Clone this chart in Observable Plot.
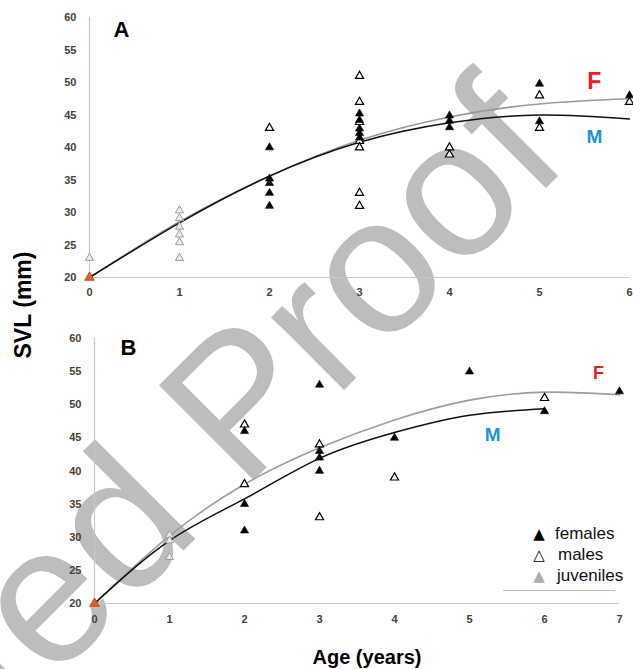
<!DOCTYPE html>
<html><head><meta charset="utf-8">
<script src="https://cdn.jsdelivr.net/npm/d3@7"></script>
<script src="https://cdn.jsdelivr.net/npm/@observablehq/plot@0.6"></script>
<style>
  body { margin: 0; background: #fff; }
  #wrap { position: relative; width: 633px; height: 669px; overflow: hidden; font-family: "Liberation Sans", Arial, sans-serif; }
  #wm { position: absolute; left: 0; top: 0; }
  #pa { position: absolute; left: 0; top: 0; }
  #pb { position: absolute; left: 0; top: 320px; }
  #ytitle { position: absolute; left: 23px; top: 305px; transform: translate(-50%, -50%) rotate(-90deg); font-weight: bold; font-size: 23px; white-space: nowrap; line-height: 1; color: #000; }
  #xtitle { position: absolute; left: 367px; top: 647px; transform: translateX(-50%); font-weight: bold; font-size: 20px; white-space: nowrap; line-height: 1; color: #000; }
  .lg { position: absolute; left: 530px; height: 18px; font-size: 17px; line-height: 18px; white-space: nowrap; font-family: "Liberation Sans", Arial, sans-serif; }
  .lg .sym { display: inline-block; width: 18px; height: 18px; font-family: "DejaVu Sans", sans-serif; font-size: 15px; line-height: 18px; text-align: center; vertical-align: top; }
  .lg .lab { margin-left: 7px; color: #111; vertical-align: top; }
  #lgline { position: absolute; left: 503px; top: 590px; width: 112px; height: 1px; background: #bdbdbd; }
</style></head>
<body>
<div id="wrap">
  <svg id="wm" width="633" height="669"><text x="572" y="162" text-anchor="end" transform="rotate(-45 572 162)" font-size="195" fill="#bdbdbd" font-family="Liberation Sans, Arial, sans-serif">Uncorrected Proof</text></svg>
  <div id="pa"></div>
  <div id="pb"></div>
  <div id="ytitle">SVL (mm)</div>
  <div id="xtitle">Age (years)</div>
  <div class="lg" style="top:525px"><span class="sym" style="color:#000">▲</span><span class="lab">females</span></div>
  <div class="lg" style="top:546px"><span class="sym" style="color:#000">△</span><span class="lab" style="margin-left:10px">males</span></div>
  <div class="lg" style="top:567px"><span class="sym" style="color:#aeaeae">▲</span><span class="lab" style="margin-left:9px">juveniles</span></div>
  <div id="lgline"></div>
</div>
<script>
// ---------- shared ----------
const svlTicks = [20, 25, 30, 35, 40, 45, 50, 55, 60];
const svlDomain = [20, 60];

// ---------- panel A ----------
const ageTicksA = [0, 1, 2, 3, 4, 5, 6];
const femalesA = [[2,40],[2,35.2],[2,34.5],[2,33],[2,31],[3,45.2],[3,44.2],[3,42.9],[3,42.2],[3,41.5],[4,44.9],[4,44.1],[4,43.1],[5,49.8],[5,44],[6,48]];
const malesA = [[2,43],[3,51],[3,47],[3,43.9],[3,41],[3,40],[3,33],[3,31],[4,40],[4,38.9],[5,48],[5,43],[6,47]];
const juvenilesA = [[0,23],[1,30.3],[1,29.1],[1,27.8],[1,26.6],[1,25.4],[1,23]];
const hatchlingsA = [[0,20]];
const fitAgesA = [0, 1, 2, 3, 4, 5, 6];
const femaleFitA = [20, 28.6, 35.6, 41.1, 44.7, 46.7, 47.5];
const maleFitA = [20, 28.4, 35.6, 40.8, 43.8, 45.0, 44.4];
const curveLabelsA = [{t: "F", age: 5.61, svl: 50.2}, {t: "M", age: 5.61, svl: 41.7}];

// ---------- panel B ----------
const ageTicksB = [0, 1, 2, 3, 4, 5, 6, 7];
const femalesB = [[2,46],[2,35],[2,31],[3,53],[3,43],[3,42],[3,40],[4,45],[5,55],[6,49],[7,52]];
const malesB = [[2,47],[2,38],[3,44],[3,33],[4,39],[6,51]];
const juvenilesB = [[1,30.3],[1,29.5],[1,27]];
const hatchlingsB = [[0,20]];
const femaleFitAgesB = [0, 1, 2, 3, 4, 5, 6, 7];
const femaleFitB = [20, 30.2, 38, 43.5, 47.7, 50.7, 51.9, 51.5];
const maleFitAgesB = [0, 1, 2, 3, 4, 5, 6];
const maleFitB = [20, 29.5, 35.8, 41.9, 45.8, 48.4, 49.4];
const curveLabelsB = [{t: "F", age: 6.72, svl: 54.7}, {t: "M", age: 5.31, svl: 45.4}];

const zip = (xs, ys) => xs.map((x, i) => [x, ys[i]]);

function panel(cfg) {
  const ticks = cfg.ageTicks;
  const xMax = ticks[ticks.length - 1];
  return Plot.plot({
    width: 633, height: cfg.height,
    marginLeft: cfg.ml, marginRight: cfg.mr, marginTop: cfg.mt, marginBottom: cfg.mb,
    style: { background: "transparent", fontFamily: "Liberation Sans, Arial, sans-serif", fontSize: "11px", fontWeight: "bold", color: "#4a4034", overflow: "visible" },
    x: { domain: [0, xMax], ticks: ticks, tickSize: 0, tickPadding: cfg.xpad, label: null, tickFormat: d => String(d) },
    y: { domain: svlDomain, ticks: svlTicks, tickSize: 0, tickPadding: 13, label: null },
    marks: [
      Plot.ruleY([20], { x1: 0, x2: xMax, stroke: "#c8c8c8", strokeWidth: 1.2 }),
      Plot.ruleX([0], { y1: 20, y2: 60, stroke: "#c8c8c8", strokeWidth: 1.2 }),
      Plot.line(cfg.fitF, { x: d => d[0], y: d => d[1], curve: "natural", stroke: cfg.fColor, strokeWidth: 1.6 }),
      Plot.line(cfg.fitM, { x: d => d[0], y: d => d[1], curve: "natural", stroke: "#111", strokeWidth: 1.5 }),
      Plot.dot(cfg.juveniles, { x: d => d[0], y: d => d[1], symbol: "triangle2", r: 3.9, fill: "#ececec", stroke: "#9a9a9a", strokeWidth: 1 }),
      Plot.dot(cfg.males, { x: d => d[0], y: d => d[1], symbol: "triangle2", r: 3.9, fill: "white", stroke: "#000", strokeWidth: 1.2 }),
      Plot.dot(cfg.females, { x: d => d[0], y: d => d[1], symbol: "triangle2", r: 3.9, fill: "#000", stroke: "#000", strokeWidth: 0.6 }),
      Plot.dot(cfg.hatch, { x: d => d[0], y: d => d[1], symbol: "triangle2", r: 4.6, fill: "#e8601c", stroke: "#a8420f", strokeWidth: 0.8 }),
      Plot.text(cfg.labels, { x: "age", y: "svl", text: "t", fill: d => d.t === "F" ? "#ec1c24" : "#1b95d6",
        fontSize: d => cfg.labelSize[d.t], fontWeight: "bold", fontFamily: "Liberation Sans, Arial, sans-serif", lineAnchor: "middle", textAnchor: "middle" }),
      Plot.text([cfg.letter], { frameAnchor: "top-left", dx: cfg.letterDx, dy: cfg.letterDy, textAnchor: "start", lineAnchor: "top",
        fill: "#000", fontSize: 22, fontWeight: "bold", fontFamily: "Liberation Sans, Arial, sans-serif" })
    ]
  });
}

document.getElementById("pa").appendChild(panel({
  ageTicks: ageTicksA, height: 300, ml: 89, mr: 4, mt: 17, mb: 23, xpad: 11,
  fitF: zip(fitAgesA, femaleFitA), fitM: zip(fitAgesA, maleFitA), fColor: "#999",
  females: femalesA, males: malesA, juveniles: juvenilesA, hatch: hatchlingsA,
  labels: curveLabelsA, labelSize: { F: 23, M: 19 }, letter: "A", letterDx: 24, letterDy: 4
}));

document.getElementById("pb").appendChild(panel({
  ageTicks: ageTicksB, height: 349, ml: 94, mr: 14, mt: 18, mb: 66, xpad: 12,
  fitF: zip(femaleFitAgesB, femaleFitB), fitM: zip(maleFitAgesB, maleFitB), fColor: "#97a1a1",
  females: femalesB, males: malesB, juveniles: juvenilesB, hatch: hatchlingsB,
  labels: curveLabelsB, labelSize: { F: 18, M: 19 }, letter: "B", letterDx: 26, letterDy: 1
}));
</script>
</body></html>
